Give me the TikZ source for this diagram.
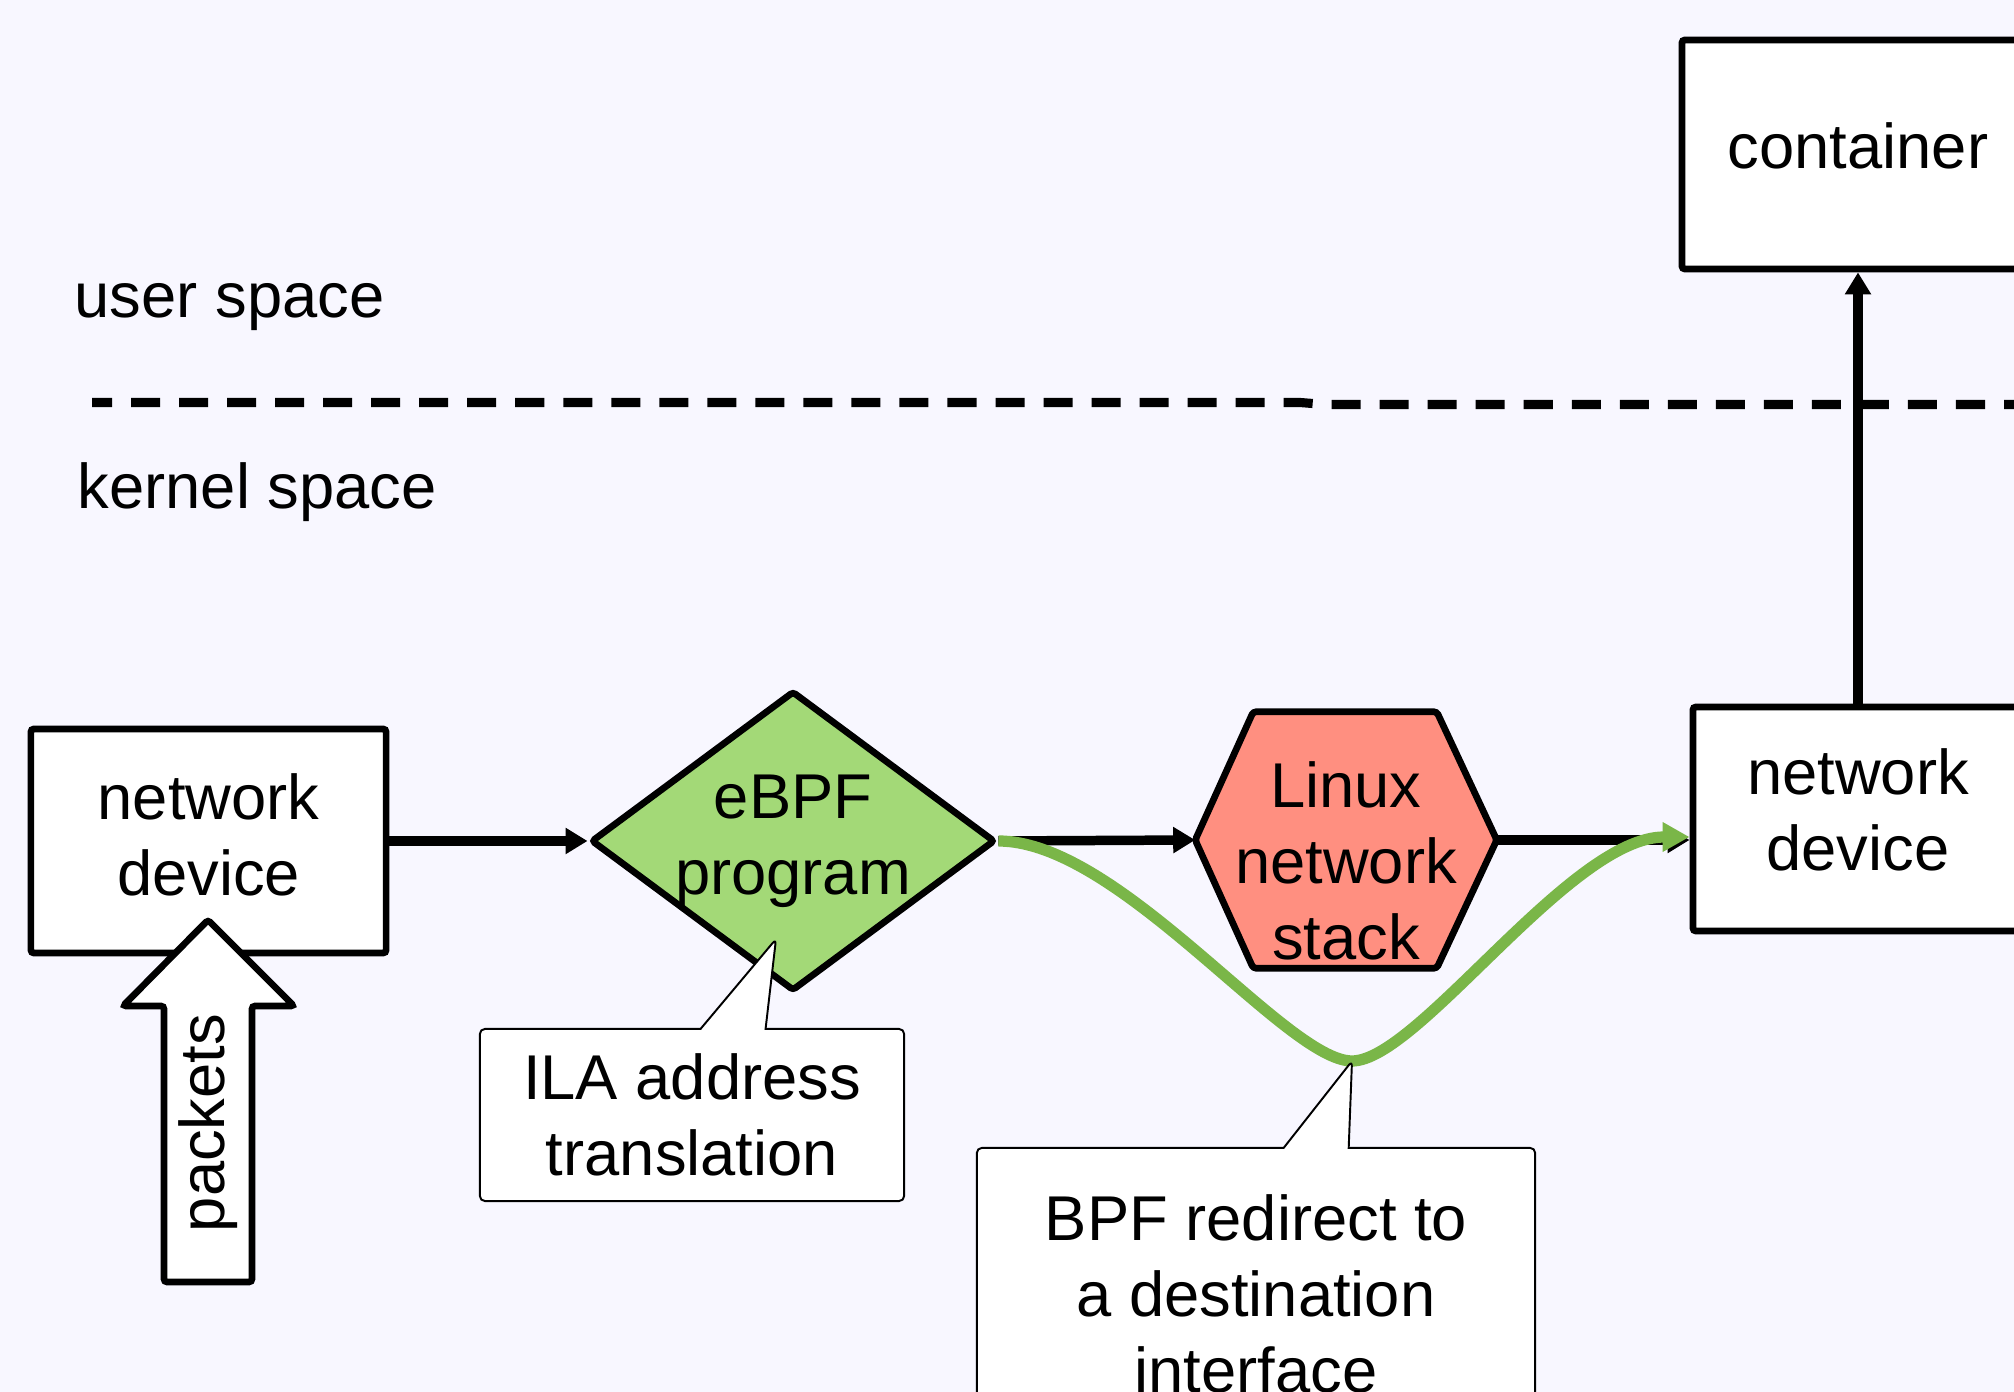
\documentclass[tikz,border=0pt]{standalone}
\usepackage{fontspec}
\setmainfont{Liberation Sans}
\usetikzlibrary{arrows.meta,shapes.geometric,shapes.callouts,positioning}

\definecolor{bgcol}{RGB}{248,247,255}
\definecolor{ebpfgreen}{HTML}{A3D977}
\definecolor{stackred}{HTML}{FF8F80}
\definecolor{redirgreen}{HTML}{7AB648}

\tikzset{
  box/.style={draw, fill=white, line width=1.9pt, rounded corners=0.03cm, align=center, inner sep=0, text depth=0.18cm},
  flow/.style={line width=2.7pt, -{Triangle[length=0.22cm,width=0.25cm]}},
  note/.style={rectangle callout, draw, fill=white, line width=0.55pt, rounded corners=0.05cm,
    callout pointer width=0.65cm, align=center, inner sep=0},
}

\begin{document}
\begin{tikzpicture}[x=0.01cm, y=-0.01cm, font=\fontsize{18}{21.6}\selectfont]
    \fill[bgcol] (0,0) rectangle (2014,1392);
    \useasboundingbox (0,0) rectangle (2014,1392);

    % user / kernel boundary
    \draw[line width=2.6pt, dash pattern=on 0.29cm off 0.19cm, dash phase=0.09cm]
      (92,402.5) -- (1300,402.5) -- (1325,404.5) -- (2030,404.5);
    \node[anchor=base west, inner sep=0] (user) at (74,318) {user space};
    \node[anchor=base west, inner sep=0] (kernel) at (77,509) {kernel space};

    \node[box, minimum width=3.55cm, minimum height=2.24cm, text depth=0.12cm] (dev1) at (208.5,841) {network\\device};

    % incoming packets
    \draw[fill=white, line width=1.9pt, rounded corners=0.03cm]
      (164,1282) -- (164,1006) -- (123,1006) -- (208,920) -- (294,1006) -- (252,1006) -- (252,1282) -- cycle;
    \node[rotate=90] (pkt) at (208,1123) {packets};

    \node[diamond, draw, fill=ebpfgreen, line width=1.9pt, rounded corners=0.03cm,
      minimum width=4.04cm, minimum height=3.0cm, inner sep=0] (ebpf) at (793,841) {};
    \node[align=center] (ebpftxt) at (ebpf.center) {eBPF\\program};

    \node[minimum width=3.0cm, minimum height=2.55cm, inner sep=0] (stack) at (1346,840) {};
    \draw[fill=stackred, line width=1.9pt, rounded corners=0.03cm]
      (stack.west) -- ([xshift=0.58cm]stack.north west) -- ([xshift=-0.6cm]stack.north east)
      -- (stack.east) -- ([xshift=-0.6cm]stack.south east) -- ([xshift=0.58cm]stack.south west) -- cycle;
    \node[align=center] (stacktxt) at ([yshift=-0.21cm]stack.center) {Linux\\network\\stack};

    \node[box, minimum width=3.3cm, minimum height=2.24cm] (dev2) at (1858,819) {network\\device};
    \node[box, minimum width=3.52cm, minimum height=2.29cm] (cont) at (1858,154.5) {container};

    \draw[flow] (dev1.east) -- (ebpf.west);
    \draw[flow] (ebpf.east) -- (stack.west);
    \draw[flow] (stack.east) -- (stack.east -| dev2.west);
    \draw[flow] (dev2.north) -- (cont.south);

    % redirect path
    \coordinate (dip) at (1352,1061);
    \draw[redirgreen, line width=3.2pt, -{Triangle[length=0.27cm,width=0.28cm]}]
      (ebpf.east) .. controls (1120,841) and (1286,1061) .. (dip)
      .. controls (1418,1061) and (1570,837) .. ([yshift=-0.18cm]dev2.west);

    \coordinate (ilatip) at (776,939);
    \node[note, minimum width=4.24cm, minimum height=1.72cm, callout absolute pointer={(ilatip)}]
      (ila) at (692,1115) {ILA address\\translation};
    \node[note, minimum width=5.58cm, minimum height=2.92cm, callout absolute pointer={(dip)}]
      (redir) at (1256,1294) {BPF redirect to\\a destination\\interface};
\end{tikzpicture}
\end{document}
